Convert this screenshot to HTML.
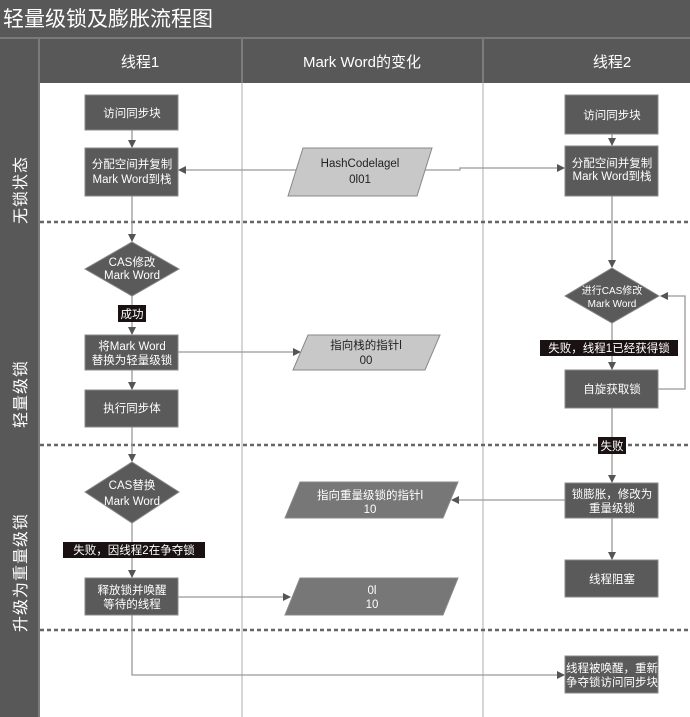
<!DOCTYPE html>
<html><head><meta charset="utf-8"><style>
html,body{margin:0;padding:0;background:#fff}
svg{display:block}
text{font-family:"Liberation Sans","Noto Sans CJK SC",sans-serif}
</style></head><body>
<svg width="690" height="717" viewBox="0 0 690 717" xmlns="http://www.w3.org/2000/svg">
<defs>
<marker id="a" markerWidth="8" markerHeight="8" refX="7" refY="4" orient="auto" markerUnits="userSpaceOnUse">
<path d="M0,0 L8,4 L0,8 z" fill="#555"/></marker>
</defs>
<rect x="0" y="0" width="690" height="717" fill="#fff"/>
<rect x="0" y="0" width="690" height="37" fill="#585858"/>
<text x="3" y="26" font-size="21" fill="#fff">轻量级锁及膨胀流程图</text>
<rect x="0" y="37" width="690" height="2" fill="#7a7a7a"/>
<rect x="0" y="39" width="38" height="678" fill="#585858"/>
<rect x="38" y="39" width="2" height="678" fill="#7a7a7a"/>
<rect x="40" y="39" width="650" height="44" fill="#585858"/>
<line x1="242" y1="39" x2="242" y2="83" stroke="#888" stroke-width="1.5"/>
<line x1="483" y1="39" x2="483" y2="83" stroke="#888" stroke-width="1.5"/>
<text x="140" y="67" font-size="15" fill="#fff" text-anchor="middle">线程1</text>
<text x="362" y="67" font-size="15" fill="#fff" text-anchor="middle">Mark Word的变化</text>
<text x="612" y="67" font-size="15" fill="#fff" text-anchor="middle">线程2</text>
<line x1="242" y1="83" x2="242" y2="717" stroke="#bbb" stroke-width="1.2"/>
<line x1="483" y1="83" x2="483" y2="717" stroke="#bbb" stroke-width="1.2"/>
<g stroke="#666" stroke-width="2.5" stroke-dasharray="4,3">
<line x1="40" y1="222" x2="690" y2="222"/>
<line x1="40" y1="445" x2="690" y2="445"/>
<line x1="40" y1="630" x2="690" y2="630"/>
</g>
<g font-size="16" fill="#fff" letter-spacing="1">
<text transform="translate(26,224) rotate(-90)">无锁状态</text>
<text transform="translate(26,428) rotate(-90)">轻量级锁</text>
<text transform="translate(26,632) rotate(-90)">升级为重量级锁</text>
</g>
<g stroke="#999" stroke-width="1.3" fill="none">
<line x1="132" y1="130" x2="132" y2="147" marker-end="url(#a)"/>
<line x1="132" y1="196" x2="132" y2="241" marker-end="url(#a)"/>
<line x1="132" y1="296" x2="132" y2="334" marker-end="url(#a)"/>
<line x1="132" y1="370" x2="132" y2="389" marker-end="url(#a)"/>
<line x1="132" y1="427" x2="132" y2="461" marker-end="url(#a)"/>
<line x1="132" y1="523" x2="132" y2="577" marker-end="url(#a)"/>
<polyline points="132,615 132,675 564,675" marker-end="url(#a)"/>
<line x1="296" y1="170" x2="179" y2="170" marker-end="url(#a)"/>
<polyline points="425,170 460,170 460,168 564,168" marker-end="url(#a)"/>
<line x1="178" y1="352" x2="300" y2="352" marker-end="url(#a)"/>
<line x1="178" y1="597" x2="290" y2="597" marker-end="url(#a)"/>
<line x1="565" y1="500" x2="452" y2="500" marker-end="url(#a)"/>
<line x1="612" y1="134" x2="612" y2="145" marker-end="url(#a)"/>
<line x1="612" y1="196" x2="612" y2="267" marker-end="url(#a)"/>
<line x1="612" y1="323" x2="612" y2="369" marker-end="url(#a)"/>
<line x1="612" y1="408" x2="612" y2="482" marker-end="url(#a)"/>
<line x1="612" y1="518" x2="612" y2="559" marker-end="url(#a)"/>
<polyline points="658,389 685,389 685,296 661,296" marker-end="url(#a)"/>
</g>
<g fill="#5a5a5a" stroke="#888" stroke-width="1">
<rect x="85" y="95" width="93" height="35"/>
<rect x="85" y="148" width="93" height="48"/>
<rect x="85" y="335" width="93" height="35"/>
<rect x="85" y="390" width="93" height="37"/>
<rect x="85" y="578" width="93" height="37"/>
<rect x="565" y="95" width="93" height="39"/>
<rect x="565" y="146" width="93" height="50"/>
<rect x="565" y="370" width="93" height="38"/>
<rect x="565" y="483" width="93" height="35"/>
<rect x="565" y="560" width="93" height="37"/>
<rect x="565" y="656" width="93" height="37"/>
<polygon points="132,242 179,269 132,296 85,269"/>
<polygon points="132,462 179,492 132,523 85,492"/>
<polygon points="612,268 659,296 612,323 565,296"/>
</g>
<polygon points="303,148 432,148 417,196 288,196" fill="#c8c8c8" stroke="#888"/>
<polygon points="308,335 440,335 425,370 293,370" fill="#c8c8c8" stroke="#888"/>
<polygon points="300,482 458,482 443,518 285,518" fill="#777" stroke="#888"/>
<polygon points="300,578 458,578 443,615 285,615" fill="#777" stroke="#888"/>
<g font-size="11.5" fill="#fff" text-anchor="middle">
<text x="132" y="117">访问同步块</text>
<text x="132" y="168">分配空间并复制</text>
<text x="132" y="183">Mark Word到栈</text>
<text x="132" y="266">CAS修改</text>
<text x="132" y="279">Mark Word</text>
<text x="132" y="350">将Mark Word</text>
<text x="132" y="364">替换为轻量级锁</text>
<text x="132" y="412">执行同步体</text>
<text x="132" y="489">CAS替换</text>
<text x="132" y="505">Mark Word</text>
<text x="132" y="594">释放锁并唤醒</text>
<text x="132" y="608">等待的线程</text>
<text x="612" y="119">访问同步块</text>
<text x="612" y="167">分配空间并复制</text>
<text x="612" y="180">Mark Word到栈</text>
<text x="612" y="294" font-size="10">进行CAS修改</text>
<text x="612" y="307" font-size="10">Mark Word</text>
<text x="612" y="393">自旋获取锁</text>
<text x="612" y="498">锁膨胀，修改为</text>
<text x="612" y="512">重量级锁</text>
<text x="612" y="583">线程阻塞</text>
<text x="612" y="672">线程被唤醒，重新</text>
<text x="612" y="686">争夺锁访问同步块</text>
<text x="370" y="499">指向重量级锁的指针l</text>
<text x="370" y="513">10</text>
<text x="372" y="594">0l</text>
<text x="372" y="608">10</text>
</g>
<g font-size="11.5" fill="#222" text-anchor="middle">
<text x="360" y="167">HashCodelagel</text>
<text x="360" y="183">0l01</text>
<text x="366" y="349">指向栈的指针l</text>
<text x="366" y="364">00</text>
</g>
<g fill="#1a1212">
<rect x="118" y="305" width="28" height="17"/>
<rect x="540" y="340" width="138" height="16"/>
<rect x="598" y="437" width="28" height="17"/>
<rect x="63" y="542" width="142" height="16"/>
</g>
<g font-size="11.5" fill="#fff" text-anchor="middle">
<text x="132" y="318">成功</text>
<text x="609" y="352">失败，线程1已经获得锁</text>
<text x="612" y="450">失败</text>
<text x="134" y="554">失败，因线程2在争夺锁</text>
</g>
</svg>
</body></html>
